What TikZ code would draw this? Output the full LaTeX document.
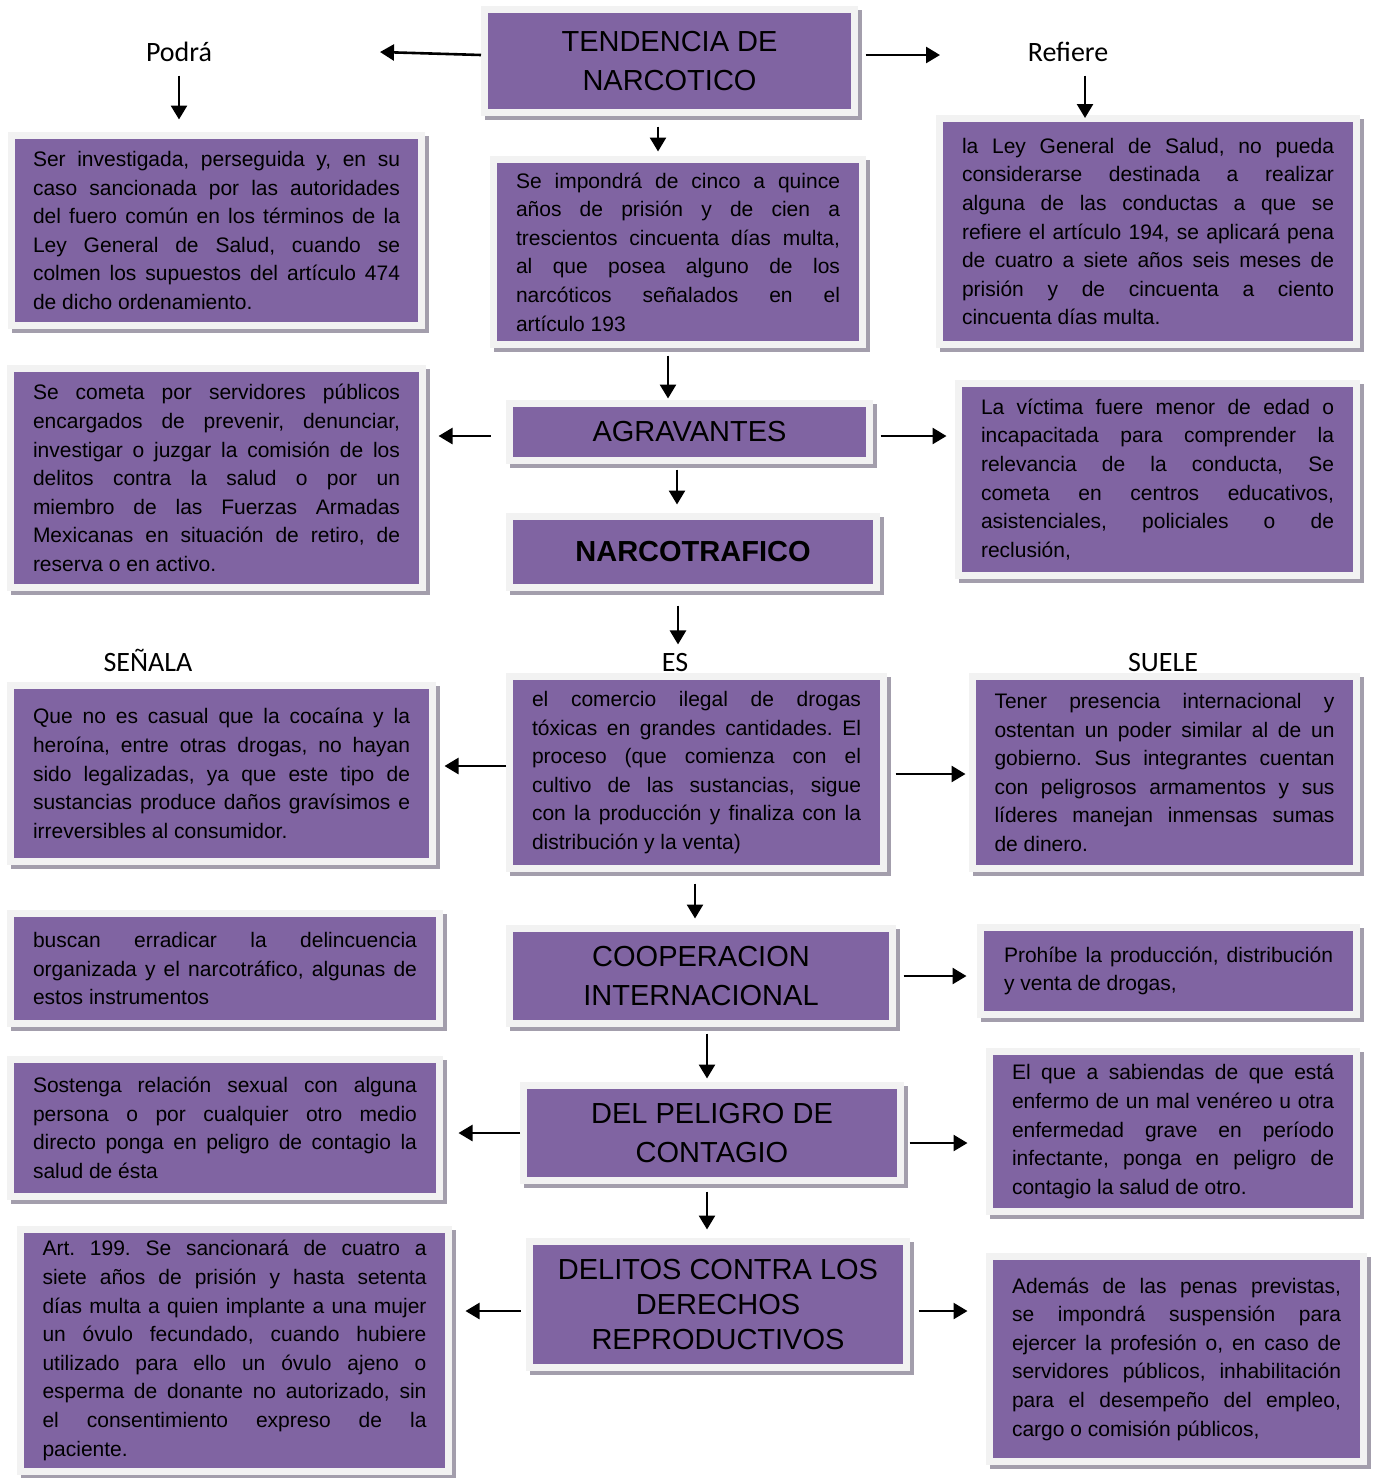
\documentclass[tikz,border=0pt]{standalone}
\usepackage{fontspec}
\setmainfont{Liberation Sans}
\newfontfamily\labelfont{Carlito}
\usetikzlibrary{shapes.geometric, arrows.meta, shadows}
\definecolor{boxpurple}{RGB}{128,100,162}
\definecolor{boxframe}{RGB}{242,242,242}
\definecolor{boxshadow}{RGB}{163,158,172}
\setlength{\parindent}{0pt}
\hyphenpenalty=10000
\frenchspacing

\tikzstyle{box} = [rectangle,
inner sep=0pt,
fill=boxpurple,
draw=boxframe,
line width=3.5pt,
drop shadow={shadow xshift=2pt, shadow yshift=-2pt, fill=boxshadow, draw=boxshadow, line width=3.5pt, opacity=1}]
\tikzstyle{textbox} = [box,
align=justify,
font=\fontsize{10.5}{14.3}\selectfont]
\tikzstyle{titlebox} = [box,
align=center,
font=\fontsize{14.5}{19.5}\selectfont]
\tikzstyle{linklabel} = [inner sep=0pt, anchor=base,
font=\labelfont\fontsize{14}{17}\selectfont]
\tikzstyle{arrow} = [line width=1.3pt,-{Triangle[length=7pt,width=8pt]}]

\begin{document}
\begin{tikzpicture}[x=0.5pt, y=-0.5pt]
\path[use as bounding box, fill=white] (0,0) rectangle (1372,1478);

% Nodes
\node (tend) [titlebox, minimum width=185pt, minimum height=51.5pt] at (669.5,61) {TENDENCIA DE\\NARCOTICO};

\node (podra) [linklabel] at (179,61) {Podrá};
\node (refiere) [linklabel] at (1068,61) {Refiere};

\node (podrabox) [textbox, minimum width=205pt, minimum height=95pt, text width=183.5pt] at (216.5,230.5) {Ser investigada, perseguida y, en su\linebreak caso sancionada por las autoridades\linebreak del fuero común en los términos de la\linebreak Ley General de Salud, cuando se\linebreak colmen los supuestos del artículo 474\linebreak de dicho ordenamiento.};

\node (impon) [textbox, minimum width=184.5pt, minimum height=92.5pt, text width=162pt] at (678,252) {Se impondrá de cinco a quince\linebreak años de prisión y de cien a\linebreak trescientos cincuenta días multa,\linebreak al que posea alguno de los\linebreak narcóticos señalados en el\linebreak artículo 193};

\node (refbox) [textbox, minimum width=208.5pt, minimum height=113pt, text width=186pt] at (1148,231.5) {la Ley General de Salud, no pueda\linebreak considerarse destinada a realizar\linebreak alguna de las conductas a que se\linebreak refiere el artículo 194, se aplicará pena\linebreak de cuatro a siete años seis meses de\linebreak prisión y de cincuenta a ciento\linebreak cincuenta días multa.};

\node (cometa) [textbox, minimum width=206pt, minimum height=109.5pt, text width=183.5pt] at (216.5,478) {Se cometa por servidores públicos\linebreak encargados de prevenir, denunciar,\linebreak investigar o juzgar la comisión de los\linebreak delitos contra la salud o por un\linebreak miembro de las Fuerzas Armadas\linebreak Mexicanas en situación de retiro, de\linebreak reserva o en activo.};

\node (agrav) [titlebox, minimum width=180pt, minimum height=28.5pt] at (689.5,432) {AGRAVANTES};

\node (victima) [textbox, minimum width=199pt, minimum height=96pt, text width=176.5pt] at (1157.5,479.5) {La víctima fuere menor de edad o\linebreak incapacitada para comprender la\linebreak relevancia de la conducta, Se\linebreak cometa en centros educativos,\linebreak asistenciales, policiales o de\linebreak reclusión,};

\node (narco) [titlebox, minimum width=183.5pt, minimum height=35.5pt, font=\fontsize{14.5}{19.5}\selectfont\bfseries] at (693,552) {NARCOTRAFICO};

\node (senala) [linklabel] at (148,671) {SEÑALA};
\node (es) [linklabel] at (675,671) {ES};
\node (suele) [linklabel] at (1163,671) {SUELE};

\node (casual) [textbox, minimum width=211pt, minimum height=88pt, text width=188.5pt] at (221.5,773.5) {Que no es casual que la cocaína y la\linebreak heroína, entre otras drogas, no hayan\linebreak sido legalizadas, ya que este tipo de\linebreak sustancias produce daños gravísimos e\linebreak irreversibles al consumidor.};

\node (comercio) [textbox, minimum width=187pt, minimum height=96pt, text width=164.5pt] at (696.5,772.5) {el comercio ilegal de drogas\linebreak tóxicas en grandes cantidades. El\linebreak proceso (que comienza con el\linebreak cultivo de las sustancias, sigue\linebreak con la producción y finaliza con la\linebreak distribución y la venta)};

\node (tener) [textbox, minimum width=192pt, minimum height=96pt, text width=170pt] at (1164.5,772.5) {Tener presencia internacional y\linebreak ostentan un poder similar al de un\linebreak gobierno. Sus integrantes cuentan\linebreak con peligrosos armamentos y sus\linebreak líderes manejan inmensas sumas\linebreak de dinero.};

\node (buscan) [textbox, minimum width=214.5pt, minimum height=55pt, text width=192pt] at (225,968.5) {buscan erradicar la delincuencia\linebreak organizada y el narcotráfico, algunas de\linebreak estos instrumentos};

\node (coop) [titlebox, minimum width=191.5pt, minimum height=47.5pt] at (701,976) {COOPERACION\\INTERNACIONAL};

\node (prohibe) [textbox, minimum width=188pt, minimum height=43.5pt, text width=164.5pt] at (1168.5,971) {Prohíbe la producción, distribución\linebreak y venta de drogas,};

\node (sostenga) [textbox, minimum width=214.5pt, minimum height=68.5pt, text width=192pt] at (225,1128) {Sostenga relación sexual con alguna\linebreak persona o por cualquier otro medio\linebreak directo ponga en peligro de contagio la\linebreak salud de ésta};

\node (peligro) [titlebox, minimum width=188.5pt, minimum height=47.5pt] at (712,1133) {DEL PELIGRO DE\\CONTAGIO};

\node (sabiendas) [textbox, minimum width=183.5pt, minimum height=80pt, text width=161pt] at (1173,1131.5) {El que a sabiendas de que está\linebreak enfermo de un mal venéreo u otra\linebreak enfermedad grave en período\linebreak infectante, ponga en peligro de\linebreak contagio la salud de otro.};

\node (art) [textbox, minimum width=214pt, minimum height=121pt, text width=192pt] at (234.5,1350.5) {Art. 199. Se sancionará de cuatro a\linebreak siete años de prisión y hasta setenta\linebreak días multa a quien implante a una mujer\linebreak un óvulo fecundado, cuando hubiere\linebreak utilizado para ello un óvulo ajeno o\linebreak esperma de donante no autorizado, sin\linebreak el consentimiento expreso de la\linebreak paciente.};

\node (delitos) [titlebox, minimum width=188.5pt, minimum height=63pt, font=\fontsize{14.5}{17.5}\selectfont] at (718,1304.5) {DELITOS CONTRA LOS\\DERECHOS\\REPRODUCTIVOS};

\node (ademas) [textbox, minimum width=187pt, minimum height=102.5pt, text width=164.5pt] at (1176.5,1359) {Además de las penas previstas,\linebreak se impondrá suspensión para\linebreak ejercer la profesión o, en caso de\linebreak servidores públicos, inhabilitación\linebreak para el desempeño del empleo,\linebreak cargo o comisión públicos,};

\coordinate (podraend) at (380,52);
\coordinate (refiereend) at (940,55);

% Connections
\draw [arrow] ([yshift=3pt]tend.west) -- (podraend);
\draw [arrow, shorten <=7pt, shorten >=6.25pt] (podra.south) -- (podra.south |- podrabox.north);
\draw [arrow, shorten <=3.75pt] ([yshift=3pt]tend.east) -- (refiereend);
\draw [arrow, shorten <=7pt, shorten >=-1.5pt] ([xshift=8.5pt]refiere.south) -- ([xshift=8.5pt]refiere.south |- refbox.north);
\draw [arrow, shorten <=5.25pt, shorten >=2.25pt] ([xshift=-5.75pt]tend.south) -- ([xshift=-5.75pt]tend.south |- impon.north);
\draw [arrow, shorten <=3.75pt, shorten >=0.75pt] ([xshift=-5pt]impon.south) -- ([xshift=-5pt]impon.south |- agrav.north);

\draw [arrow, shorten <=7.75pt, shorten >=6.25pt] ([yshift=-2pt]agrav.west) -- ([yshift=-2pt]agrav.west -| cometa.east);
\draw [arrow, shorten <=3.75pt, shorten >=4.25pt] ([yshift=-2pt]agrav.east) -- ([yshift=-2pt]agrav.east -| victima.west);
\draw [arrow, shorten <=2.75pt, shorten >=4.25pt] ([xshift=-6.25pt]agrav.south) -- ([xshift=-6.25pt]agrav.south |- narco.north);
\draw [arrow, shorten <=7.25pt, shorten >=4pt] ([xshift=-7.5pt]narco.south) -- ([xshift=-7.5pt]narco.south |- es.north);

\draw [arrow, shorten >=4.25pt] ([yshift=3.25pt]comercio.west) -- ([yshift=3.25pt]comercio.west -| casual.east);
\draw [arrow, shorten <=4.25pt, shorten >=1.75pt] ([yshift=-0.75pt]comercio.east) -- ([yshift=-0.75pt]comercio.east -| tener.west);
\draw [arrow, shorten <=5.75pt, shorten >=3.25pt] ([xshift=-0.75pt]comercio.south) -- ([xshift=-0.75pt]comercio.south |- coop.north);

\draw [arrow, shorten <=3.75pt, shorten >=5.25pt] (coop.east) -- (coop.east -| prohibe.west);
\draw [arrow, shorten <=3.25pt, shorten >=1.75pt] ([xshift=3pt]coop.south) -- ([xshift=3pt]coop.south |- peligro.north);

\draw [arrow, shorten >=7.75pt] (peligro.west) -- (peligro.west -| sostenga.east);
\draw [arrow, shorten <=2.75pt, shorten >=9.25pt] ([yshift=-5pt]peligro.east) -- ([yshift=-5pt]peligro.east -| sabiendas.west);
\draw [arrow, shorten <=3.75pt, shorten >=4.25pt] ([xshift=-2.5pt]peligro.south) -- ([xshift=-2.5pt]peligro.south |- delitos.north);

\draw [arrow, shorten <=2.75pt, shorten >=6.75pt] ([yshift=-3.25pt]delitos.west) -- ([yshift=-3.25pt]delitos.west -| art.east);
\draw [arrow, shorten <=4.25pt, shorten >=9.25pt] ([yshift=-3.25pt]delitos.east) -- ([yshift=-3.25pt]delitos.east -| ademas.west);

\end{tikzpicture}
\end{document}
